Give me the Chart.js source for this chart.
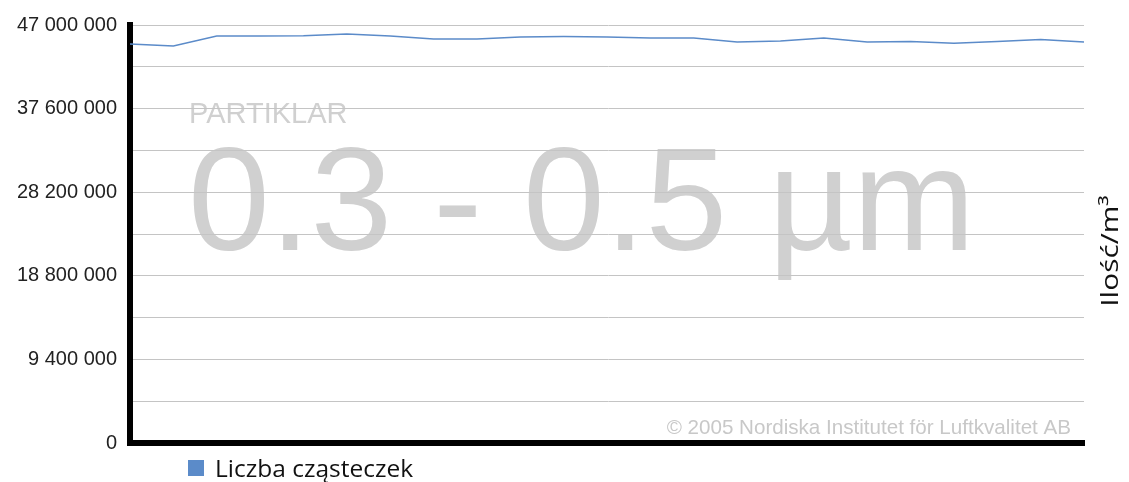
<!DOCTYPE html>
<html>
<head>
<meta charset="utf-8">
<title>Liczba cząsteczek 0.3 - 0.5 µm</title>
<script src="https://cdn.jsdelivr.net/npm/chart.js@4/dist/chart.umd.min.js"></script>
<style>
    html, body { margin: 0; padding: 0; background: #fff; }
    #wrap { position: relative; width: 1129px; height: 482px; }
</style>
</head>
<body>
<div id="wrap"><canvas id="myChart" width="1129" height="482"></canvas></div>
<script>
// dane
const etykiety = ['1', '2', '3', '4', '5', '6', '7', '8', '9', '10', '11', '12',
    '13', '14', '15', '16', '17', '18', '19', '20', '21', '22', '23'];
const wartosci = [44860000, 44640000, 45760000, 45760000, 45800000, 45990000, 45760000,
    45420000, 45420000, 45650000, 45700000, 45650000, 45540000, 45540000, 45090000,
    45200000, 45540000, 45090000, 45140000, 44940000, 45140000, 45370000, 45090000];
const osY = { min: 0, max: 47000000, krok: 4700000 };

const nazwaSerii = 'Liczba cząsteczek';
const tytulOsi = 'Ilość/m³';
const znakWodny = 'PARTIKLAR';
const zakres = '0.3 - 0.5 µm';
const copyright = '© 2005 Nordiska Institutet för Luftkvalitet AB';

const niebieski = '#5b8bc9';

function formatuj(v) {
    return String(Math.round(v)).replace(/\B(?=(\d{3})+(?!\d))/g, ' ');
}

// tło: znak wodny pod liniami siatki
const tloPlugin = {
    id: 'tlo',
    beforeDraw(chart) {
        const ctx = chart.ctx;
        ctx.save();
        ctx.fillStyle = '#d0d0d0';
        ctx.textBaseline = 'alphabetic';
        ctx.textAlign = 'left';
        ctx.font = '29px "Liberation Sans", Arial, sans-serif';
        ctx.fillText(znakWodny, 189, 123);
        ctx.font = '147px "Liberation Sans", Arial, sans-serif';
        ctx.fillText(zakres, 188, 250);
        ctx.fillStyle = '#c8c8c8';
        ctx.textAlign = 'right';
        ctx.font = '20.6px "Liberation Sans", Arial, sans-serif';
        ctx.fillText(copyright, 1071, 434);
        ctx.restore();
    },
    afterDraw(chart) {
        const ctx = chart.ctx;
        ctx.save();
        // legenda
        ctx.fillStyle = niebieski;
        ctx.fillRect(188, 460, 16, 16);
        ctx.fillStyle = '#111';
        ctx.font = '24.5px "Open Sans", "Noto Sans", sans-serif';
        ctx.textAlign = 'left';
        ctx.textBaseline = 'alphabetic';
        ctx.fillText(nazwaSerii, 215, 477);
        // tytuł osi po prawej
        ctx.translate(1118, 251);
        ctx.rotate(-Math.PI / 2);
        ctx.scale(1.3, 1);
        ctx.font = '23px "Open Sans", "Noto Sans", sans-serif';
        ctx.textAlign = 'center';
        ctx.fillText(tytulOsi, 0, 0);
        ctx.restore();
    }
};

const canvasGrafico = document.getElementById('myChart');

const grafico = new Chart(canvasGrafico, {
    type: 'line',
    data: {
        labels: etykiety,
        datasets: [{
            label: nazwaSerii,
            data: wartosci,
            borderColor: niebieski,
            borderWidth: 1.5,
            pointRadius: 0,
            tension: 0
        }]
    },
    options: {
        responsive: false,
        animation: false,
        layout: {
            padding: { top: 25, right: 45, bottom: 39, left: 0 }
        },
        scales: {
            x: {
                offset: false,
                afterFit(scale) { scale.height = 0; },
                ticks: { display: false },
                grid: { display: false },
                border: { display: true, color: '#000', width: 6 }
            },
            y: {
                min: osY.min,
                max: osY.max,
                afterFit(scale) { scale.width = 130; },
                ticks: {
                    stepSize: osY.krok,
                    padding: 13,
                    color: '#222',
                    font: { family: '"Liberation Sans", Arial, sans-serif', size: 20 },
                    callback: function (value, index) {
                        return index % 2 === 0 ? formatuj(value) : '';
                    }
                },
                grid: {
                    color: '#c4c4c4',
                    lineWidth: 1,
                    drawTicks: false
                },
                border: { display: true, color: '#000', width: 6 }
            }
        },
        plugins: {
            legend: { display: false },
            tooltip: { enabled: false }
        }
    },
    plugins: [tloPlugin]
});
</script>
</body>
</html>
